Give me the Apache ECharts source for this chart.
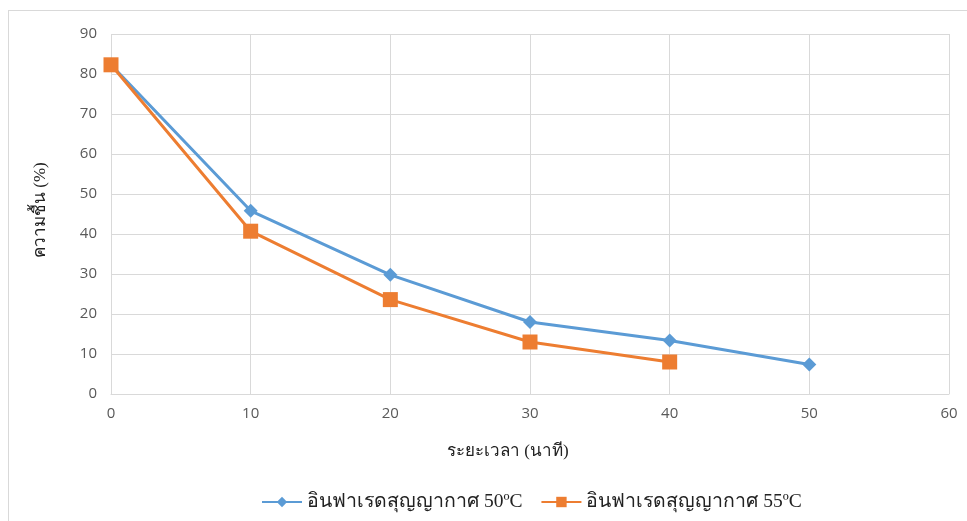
<!DOCTYPE html>
<html><head><meta charset="utf-8">
<script src="https://cdn.jsdelivr.net/npm/echarts@6/dist/echarts.min.js"></script>
<style>html,body{margin:0;padding:0;background:#fff}#c{width:967px;height:521px}
#frame{position:absolute;left:8px;top:10px;width:980px;height:530px;border:1px solid #d9d9d9;box-sizing:border-box;pointer-events:none}</style>
</head><body><div id="c"></div><div id="frame"></div>
<script>
const xValues = [0, 10, 20, 30, 40, 50];
const series50 = [82.3, 45.8, 29.8, 18.0, 13.4, 7.4];
const series55 = [82.3, 40.7, 23.6, 13.0, 8.0];
const seriesNames = ['อินฟาเรดสุญญากาศ 50ºC', 'อินฟาเรดสุญญากาศ 55ºC'];
const xTitle = 'ระยะเวลา (นาที)';
const yTitle = 'ความชื้น (%)';

const chart = echarts.init(document.getElementById('c'));
const thaiFont = '"Liberation Serif", "DejaVu Serif", serif';
chart.setOption({
  animation: false,
  grid: {left: 111, right: 18, top: 34, bottom: 127, containLabel: false},
  legend: {
    bottom: 4, left: 256, itemGap: 18, itemWidth: 40, itemHeight: 13,
    textStyle: {fontFamily: thaiFont, fontSize: 19.5, color: '#222'},
    data: seriesNames
  },
  graphic: [
    {type: 'text', left: 447, top: 443,
     style: {text: xTitle, font: '17px ' + thaiFont, fill: '#222'}},
    {type: 'text', x: 32, y: 258, rotation: Math.PI / 2,
     style: {text: yTitle, font: '17px ' + thaiFont, fill: '#222', align: 'left', verticalAlign: 'top'}}
  ],
  xAxis: {
    type: 'value', min: 0, max: 60, interval: 10,
    axisLine: {show: true, lineStyle: {color: '#d9d9d9'}},
    axisTick: {show: false},
    axisLabel: {color: '#595959', fontSize: 15, fontFamily: '"Open Sans", sans-serif', margin: 12},
    splitLine: {show: true, lineStyle: {color: '#d9d9d9'}}
  },
  yAxis: {
    type: 'value', min: 0, max: 90, interval: 10,
    axisLine: {show: false},
    axisTick: {show: false},
    axisLabel: {color: '#595959', fontSize: 15, fontFamily: '"Open Sans", sans-serif', margin: 14},
    splitLine: {show: true, lineStyle: {color: '#d9d9d9'}}
  },
  series: [
    {
      name: seriesNames[0], type: 'line',
      data: xValues.map((x, i) => [x, series50[i]]),
      symbol: 'diamond', symbolSize: 14,
      lineStyle: {color: '#5b9bd5', width: 3},
      itemStyle: {color: '#5b9bd5'}, z: 2
    },
    {
      name: seriesNames[1], type: 'line',
      data: series55.map((v, i) => [xValues[i], v]),
      symbol: 'rect', symbolSize: 15,
      lineStyle: {color: '#ed7d31', width: 3},
      itemStyle: {color: '#ed7d31'}, z: 3
    }
  ]
});
</script></body></html>
